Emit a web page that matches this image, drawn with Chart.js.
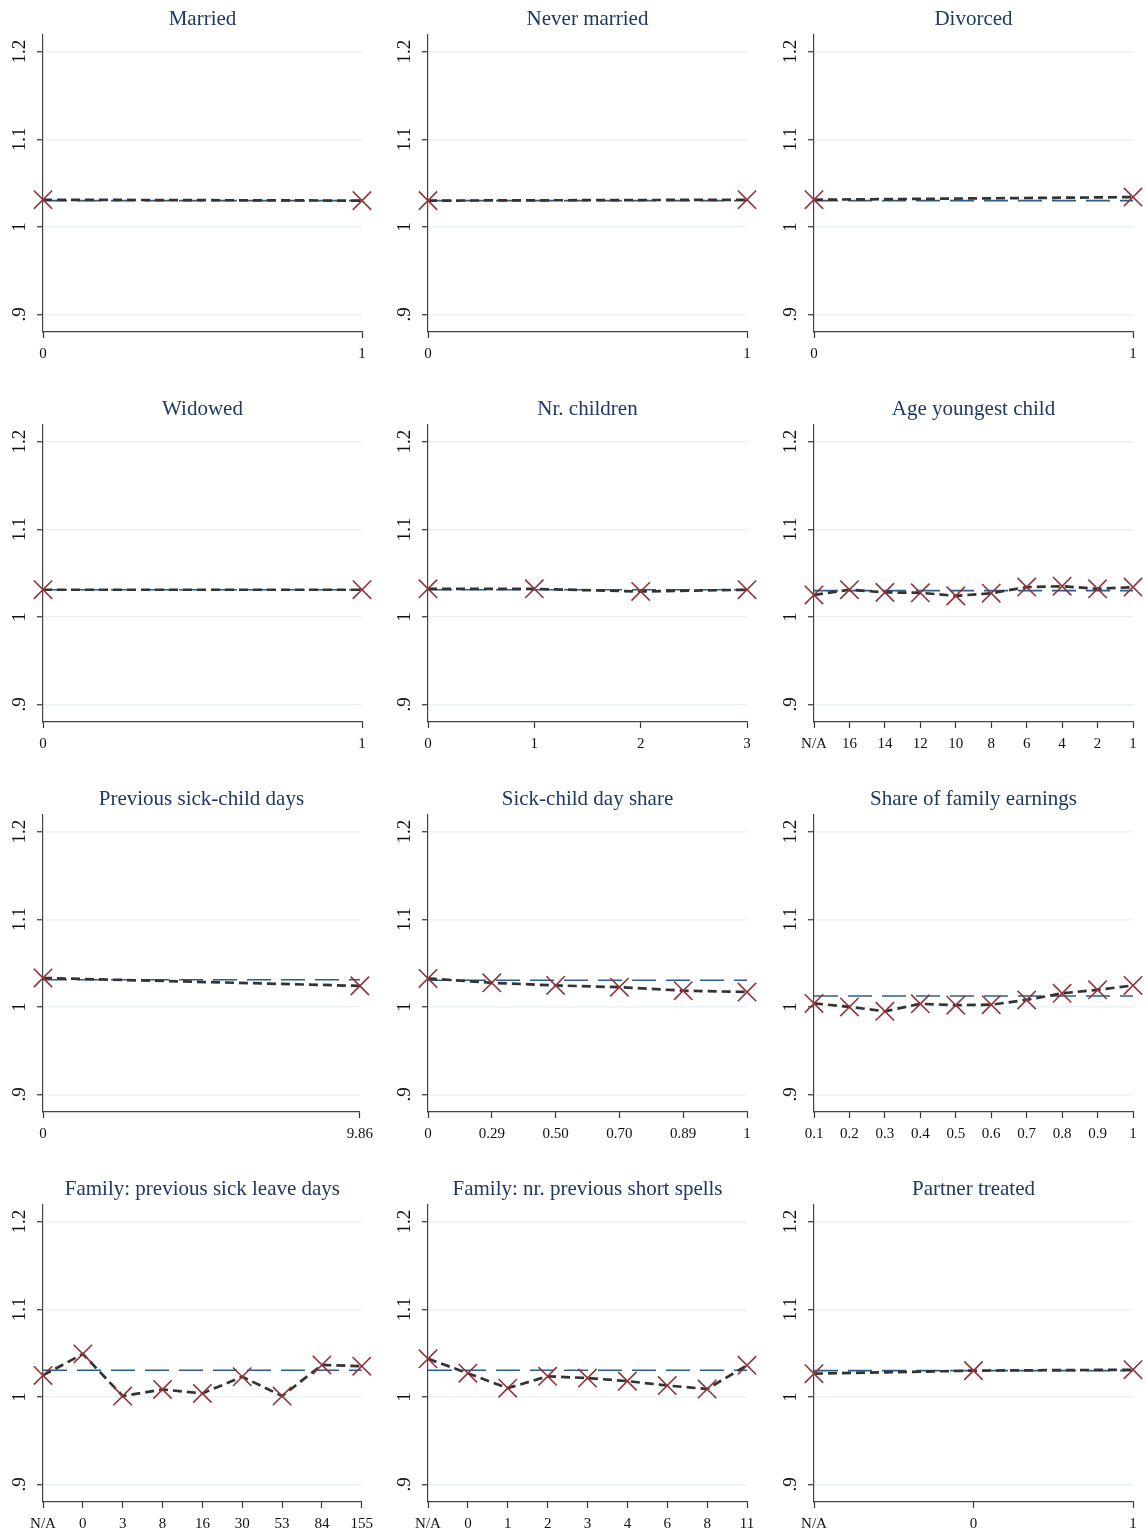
<!DOCTYPE html>
<html>
<head>
<meta charset="utf-8">
<script src="https://cdn.jsdelivr.net/npm/chart.js@4/dist/chart.umd.min.js"></script>
<style>
  html, body { margin: 0; padding: 0; background: #fff; }
  #grid { position: relative; width: 1145px; height: 1535px; overflow: hidden; }
  #grid canvas { position: absolute; }
</style>
</head>
<body>
<div id="grid"></div>
<script>
const panelTitles = [
  'Married', 'Never married', 'Divorced',
  'Widowed', 'Nr. children', 'Age youngest child',
  'Previous sick-child days', 'Sick-child day share', 'Share of family earnings',
  'Family: previous sick leave days', 'Family: nr. previous short spells', 'Partner treated'
];

const panelLabels = [
  ['0', '1'],
  ['0', '1'],
  ['0', '1'],
  ['0', '1'],
  ['0', '1', '2', '3'],
  ['N/A', '16', '14', '12', '10', '8', '6', '4', '2', '1'],
  ['0', '9.86'],
  ['0', '0.29', '0.50', '0.70', '0.89', '1'],
  ['0.1', '0.2', '0.3', '0.4', '0.5', '0.6', '0.7', '0.8', '0.9', '1'],
  ['N/A', '0', '3', '8', '16', '30', '53', '84', '155'],
  ['N/A', '0', '1', '2', '3', '4', '6', '8', '11'],
  ['N/A', '0', '1']
];

const panelValues = [
  [1.031, 1.030],
  [1.030, 1.031],
  [1.031, 1.034],
  [1.031, 1.031],
  [1.032, 1.032, 1.029, 1.031],
  [1.025, 1.031, 1.028, 1.0275, 1.024, 1.027, 1.034, 1.035, 1.032, 1.034],
  [1.033, 1.024],
  [1.0325, 1.0275, 1.0245, 1.0225, 1.0185, 1.017],
  [1.004, 1.000, 0.995, 1.0035, 1.002, 1.0025, 1.008, 1.0155, 1.0195, 1.0245],
  [1.0245, 1.049, 1.001, 1.0085, 1.004, 1.023, 1.001, 1.0365, 1.035],
  [1.0435, 1.027, 1.010, 1.0235, 1.0215, 1.018, 1.013, 1.009, 1.036],
  [1.0265, 1.030, 1.031]
];

const panelMeans = [1.030, 1.030, 1.030, 1.031, 1.031, 1.030, 1.031, 1.0305, 1.0125, 1.0305, 1.0305, 1.030];

const yTicks = [0.9, 1, 1.1, 1.2];
const yTickLabels = ['.9', '1', '1.1', '1.2'];
const yMin = 0.88;
const yMax = 1.22;

const gridEl = document.getElementById('grid');
const colLeft = [0, 385, 771];
const rowTop = [0, 390, 780, 1170];
const serif = "'Liberation Serif', 'DejaVu Serif', serif";

function buildPanel(i) {
  const canvas = document.createElement('canvas');
  canvas.width = 380;
  canvas.height = 390;
  canvas.style.left = `${colLeft[i % 3]}px`;
  canvas.style.top = `${rowTop[Math.floor(i / 3)]}px`;
  gridEl.appendChild(canvas);

  const labels = panelLabels[i];

  new Chart(canvas, {
    type: 'line',
    data: {
      labels,
      datasets: [
        {
          data: panelValues[i],
          borderColor: '#333333',
          borderWidth: 2.7,
          borderDash: [9, 5],
          pointStyle: 'crossRot',
          pointRadius: 13,
          pointBorderWidth: 1.6,
          pointBorderColor: '#90353b',
          pointBackgroundColor: '#90353b',
          fill: false,
          clip: false
        },
        {
          data: labels.map(() => panelMeans[i]),
          borderColor: '#2c5d8a',
          borderWidth: 1.6,
          borderDash: [24, 10],
          pointRadius: 0,
          fill: false,
          clip: false
        }
      ]
    },
    options: {
      responsive: false,
      animation: false,
      devicePixelRatio: 1,
      layout: { padding: { top: 0, left: 0, right: 18, bottom: 0 } },
      plugins: {
        legend: { display: false },
        tooltip: { enabled: false },
        title: {
          display: true,
          fullSize: false,
          text: panelTitles[i],
          color: '#1f3864',
          font: { family: serif, size: 21, weight: 'normal' },
          padding: { top: 7, bottom: 2 }
        }
      },
      scales: {
        x: {
          type: 'category',
          offset: false,
          afterFit: (scale) => { scale.height = 58; },
          grid: {
            drawOnChartArea: false,
            drawTicks: true,
            tickLength: 6,
            tickColor: '#333333',
            tickWidth: 1.2
          },
          border: { display: true, color: '#444444', width: 1.2 },
          ticks: {
            color: '#111111',
            font: { family: serif, size: 15 },
            padding: 7,
            autoSkip: false,
            maxRotation: 0,
            minRotation: 0
          }
        },
        y: {
          min: yMin,
          max: yMax,
          afterFit: (scale) => { scale.width = 43; },
          afterBuildTicks: (scale) => { scale.ticks = yTicks.map((v) => ({ value: v })); },
          grid: {
            color: '#eaf2f3',
            lineWidth: 1.5,
            drawTicks: true,
            tickLength: 6,
            tickColor: '#333333',
            tickWidth: 1.2
          },
          border: { display: true, color: '#444444', width: 1.2 },
          ticks: {
            color: '#111111',
            font: { family: serif, size: 19 },
            padding: 5,
            minRotation: 90,
            maxRotation: 90,
            crossAlign: 'center',
            callback: (value, index) => yTickLabels[index]
          }
        }
      }
    }
  });
}

panelTitles.forEach((_, i) => buildPanel(i));
</script>
</body>
</html>
